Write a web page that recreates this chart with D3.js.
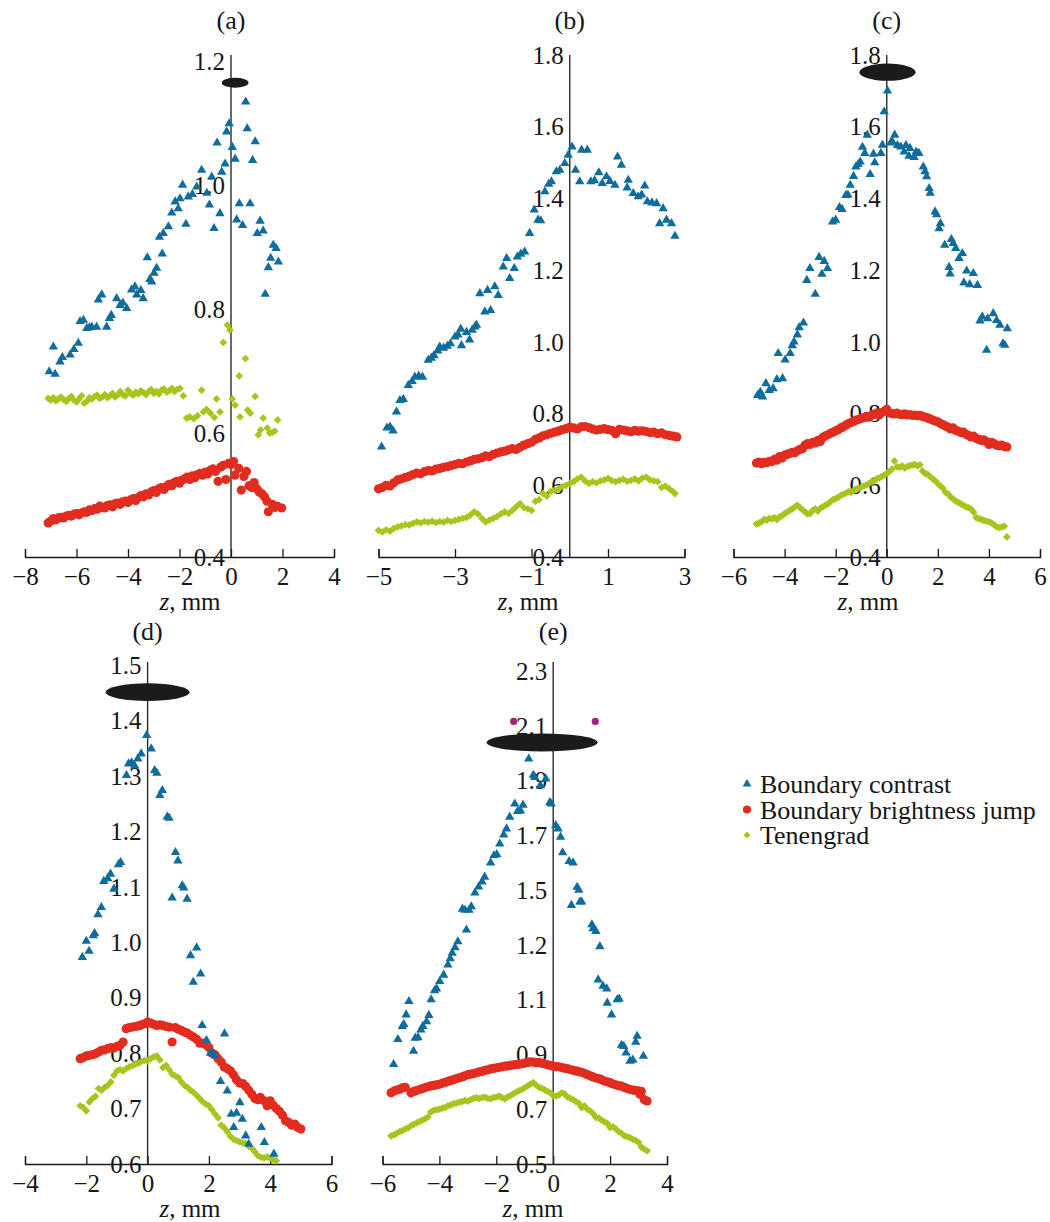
<!DOCTYPE html>
<html>
<head>
<meta charset="utf-8">
<script src="https://cdn.jsdelivr.net/npm/d3@7"></script>
<style>
  body { margin: 0; background: #ffffff; }
  svg text { font-family: "Liberation Serif", "Times New Roman", serif; fill: #161616; }
</style>
</head>
<body>
<div id="chart"></div>
<script>
// series names and colours
var seriesNames = ["Boundary contrast", "Boundary brightness jump", "Tenengrad"];
var seriesColors = ["#0f6c9c", "#e12c1f", "#a6c51d"];

// ---------- panel (a) ----------
var aContrast = [[-7.06,0.699],[-6.9,0.739],[-6.83,0.695],[-6.64,0.715],[-6.55,0.722],[-6.25,0.726],[-6.1,0.735],[-5.93,0.745],
  [-5.86,0.78],[-5.73,0.782],[-5.6,0.769],[-5.5,0.77],[-5.41,0.771],[-5.22,0.771],[-5.15,0.815],[-5.02,0.823],[-4.83,0.771],
  [-4.72,0.785],[-4.65,0.79],[-4.44,0.817],[-4.31,0.806],[-4.2,0.81],[-4.05,0.801],[-3.86,0.831],[-3.73,0.836],[-3.66,0.823],
  [-3.5,0.83],[-3.41,0.817],[-3.25,0.883],[-3.15,0.848],[-3.08,0.844],[-2.99,0.858],[-2.89,0.866],[-2.78,0.916],[-2.67,0.889],
  [-2.63,0.922],[-2.43,0.933],[-2.3,0.955],[-2.17,0.973],[-2.05,0.962],[-1.98,0.978],[-1.88,1.0],[-1.75,0.937],[-1.66,0.981],
  [-1.5,0.985],[-1.33,0.997],[-1.14,1.024],[-0.94,0.987],[-0.84,0.968],[-0.75,1.013],[-0.66,0.93],[-0.54,1.068],[-0.43,0.954],
  [-0.36,1.021],[-0.23,1.034],[-0.17,1.086],[-0.07,1.099],[0.05,1.061],[0.16,1.042],[0.22,0.944],[0.32,0.97],[0.45,0.935],
  [0.57,1.134],[0.63,1.091],[0.74,0.97],[0.84,1.04],[0.94,1.07],[1.02,0.922],[1.13,0.942],[1.25,0.926],[1.33,0.824],
  [1.45,0.867],[1.54,0.882],[1.64,0.903],[1.75,0.898],[1.84,0.876]];
var aBrightness = [[-7.1,0.455],[-7.0,0.458],[-6.9,0.462],[-6.8,0.46],[-6.7,0.463],[-6.6,0.464],[-6.5,0.463],[-6.4,0.466],
  [-6.3,0.467],[-6.2,0.466],[-6.1,0.469],[-6.0,0.47],[-5.9,0.468],[-5.8,0.471],[-5.7,0.473],[-5.6,0.472],[-5.5,0.476],
  [-5.4,0.475],[-5.3,0.478],[-5.2,0.477],[-5.1,0.482],[-5.0,0.48],[-4.9,0.479],[-4.8,0.483],[-4.7,0.484],[-4.6,0.481],
  [-4.5,0.486],[-4.4,0.487],[-4.3,0.485],[-4.2,0.489],[-4.1,0.49],[-4.0,0.488],[-3.9,0.492],[-3.8,0.494],[-3.7,0.491],
  [-3.6,0.496],[-3.5,0.499],[-3.4,0.497],[-3.3,0.502],[-3.2,0.5],[-3.1,0.505],[-3.0,0.507],[-2.9,0.504],[-2.8,0.51],
  [-2.7,0.512],[-2.6,0.509],[-2.5,0.514],[-2.4,0.517],[-2.3,0.515],[-2.2,0.52],[-2.1,0.522],[-2.0,0.519],[-1.9,0.524],
  [-1.8,0.526],[-1.7,0.529],[-1.6,0.525],[-1.5,0.531],[-1.4,0.528],[-1.3,0.533],[-1.2,0.535],[-1.1,0.532],[-1.0,0.537],
  [-0.9,0.534],[-0.8,0.54],[-0.7,0.542],[-0.6,0.538],[-0.5,0.522],[-0.4,0.545],[-0.3,0.548],[-0.2,0.525],[-0.1,0.551],
  [0.0,0.549],[0.1,0.554],[0.15,0.532],[0.3,0.543],[0.4,0.508],[0.5,0.53],[0.6,0.538],[0.7,0.515],[0.8,0.512],[0.9,0.52],
  [1.0,0.51],[1.1,0.505],[1.2,0.502],[1.3,0.497],[1.4,0.49],[1.45,0.473],[1.6,0.485],[1.7,0.48],[1.8,0.482],[1.97,0.479]];
var aTenengrad = [[-7.1,0.656],[-7.0,0.653],[-6.9,0.657],[-6.8,0.652],[-6.7,0.655],[-6.6,0.658],[-6.5,0.654],[-6.4,0.651],
  [-6.3,0.656],[-6.2,0.659],[-6.1,0.653],[-6.0,0.65],[-5.9,0.655],[-5.8,0.66],[-5.7,0.648],[-5.6,0.651],[-5.5,0.657],
  [-5.4,0.655],[-5.3,0.659],[-5.2,0.661],[-5.1,0.656],[-5.0,0.658],[-4.9,0.662],[-4.8,0.657],[-4.7,0.66],[-4.6,0.664],
  [-4.5,0.658],[-4.4,0.661],[-4.3,0.667],[-4.2,0.662],[-4.1,0.66],[-4.0,0.669],[-3.9,0.664],[-3.8,0.661],[-3.7,0.666],
  [-3.6,0.663],[-3.5,0.668],[-3.4,0.665],[-3.3,0.662],[-3.2,0.667],[-3.1,0.67],[-3.0,0.664],[-2.9,0.667],[-2.8,0.663],
  [-2.7,0.669],[-2.6,0.671],[-2.5,0.666],[-2.4,0.668],[-2.3,0.672],[-2.2,0.667],[-2.1,0.67],[-1.98,0.672],[-1.85,0.66],
  [-1.72,0.624],[-1.6,0.626],[-1.45,0.623],[-1.3,0.628],[-1.14,0.669],[-1.07,0.634],[-0.95,0.638],[-0.8,0.632],[-0.65,0.625],
  [-0.56,0.655],[-0.43,0.634],[-0.3,0.746],[-0.14,0.774],[-0.04,0.766],[0.05,0.655],[0.16,0.645],[0.32,0.692],[0.35,0.626],
  [0.56,0.72],[0.65,0.637],[0.75,0.632],[0.94,0.659],[1.06,0.597],[1.15,0.605],[1.25,0.624],[1.41,0.608],[1.5,0.6],
  [1.6,0.601],[1.7,0.603],[1.81,0.621]];
var aXTicks = [-8, -6, -4, -2, 0, 2, 4];
var aYTicks = [0.4, 0.6, 0.8, 1.0, 1.2];
var aLens = [0.16, 1.165, 0.52, 0.008];

// ---------- panel (b) ----------
var bContrast = [[-4.92,0.707],[-4.78,0.76],[-4.7,0.763],[-4.62,0.752],[-4.53,0.805],[-4.44,0.837],[-4.35,0.84],[-4.22,0.879],
  [-4.12,0.89],[-4.05,0.902],[-3.95,0.905],[-3.85,0.902],[-3.7,0.949],[-3.62,0.955],[-3.55,0.962],[-3.45,0.975],[-3.4,0.986],
  [-3.3,0.983],[-3.2,0.988],[-3.12,0.995],[-3.0,1.014],[-2.92,1.02],[-2.85,1.036],[-2.83,0.99],[-2.7,1.027],[-2.62,1.006],
  [-2.55,1.033],[-2.48,1.042],[-2.44,1.047],[-2.35,1.135],[-2.22,1.084],[-2.15,1.144],[-2.07,1.088],[-1.96,1.154],[-1.87,1.13],
  [-1.74,1.209],[-1.65,1.233],[-1.57,1.177],[-1.45,1.205],[-1.37,1.237],[-1.28,1.245],[-1.18,1.251],[-1.05,1.303],[-0.93,1.368],
  [-0.83,1.34],[-0.76,1.338],[-0.65,1.419],[-0.55,1.44],[-0.48,1.447],[-0.35,1.475],[-0.26,1.479],[-0.13,1.498],[-0.04,1.521],
  [0.06,1.544],[0.15,1.479],[0.26,1.447],[0.31,1.535],[0.46,1.535],[0.55,1.447],[0.65,1.45],[0.76,1.472],[0.85,1.442],
  [0.96,1.461],[1.05,1.448],[1.18,1.437],[1.25,1.516],[1.35,1.493],[1.5,1.43],[1.53,1.451],[1.66,1.414],[1.79,1.405],
  [1.88,1.41],[1.96,1.435],[2.03,1.391],[2.15,1.388],[2.27,1.386],[2.35,1.33],[2.44,1.372],[2.53,1.34],[2.66,1.33],[2.75,1.295]];
var bBrightness = [[-5.0,0.59],[-4.9,0.594],[-4.8,0.6],[-4.7,0.598],[-4.6,0.607],[-4.5,0.615],[-4.4,0.618],[-4.3,0.622],
  [-4.2,0.625],[-4.1,0.63],[-4.0,0.634],[-3.9,0.632],[-3.8,0.638],[-3.7,0.641],[-3.6,0.64],[-3.5,0.645],[-3.4,0.647],
  [-3.3,0.65],[-3.2,0.652],[-3.1,0.655],[-3.0,0.658],[-2.9,0.661],[-2.8,0.66],[-2.7,0.665],[-2.6,0.668],[-2.5,0.672],
  [-2.4,0.674],[-2.3,0.677],[-2.2,0.682],[-2.1,0.68],[-2.0,0.686],[-1.9,0.69],[-1.8,0.693],[-1.7,0.695],[-1.6,0.699],
  [-1.5,0.702],[-1.4,0.7],[-1.3,0.706],[-1.2,0.712],[-1.1,0.716],[-1.0,0.72],[-0.9,0.728],[-0.8,0.732],[-0.7,0.738],
  [-0.6,0.741],[-0.5,0.745],[-0.4,0.748],[-0.3,0.751],[-0.2,0.755],[-0.1,0.758],[0.0,0.762],[0.1,0.76],[0.2,0.757],
  [0.3,0.763],[0.4,0.764],[0.5,0.761],[0.6,0.757],[0.7,0.754],[0.8,0.756],[0.9,0.758],[1.0,0.755],[1.1,0.753],[1.2,0.744],
  [1.3,0.756],[1.4,0.754],[1.5,0.752],[1.6,0.749],[1.7,0.753],[1.8,0.751],[1.9,0.752],[2.0,0.75],[2.1,0.747],[2.2,0.748],
  [2.3,0.744],[2.4,0.746],[2.5,0.741],[2.6,0.739],[2.7,0.737],[2.8,0.735]];
var bTenengrad = [[-5.0,0.474],[-4.9,0.47],[-4.8,0.476],[-4.7,0.472],[-4.6,0.48],[-4.5,0.484],[-4.4,0.487],[-4.3,0.49],
  [-4.2,0.489],[-4.1,0.494],[-4.0,0.498],[-3.9,0.495],[-3.8,0.499],[-3.7,0.497],[-3.6,0.5],[-3.5,0.496],[-3.4,0.499],
  [-3.3,0.497],[-3.2,0.502],[-3.1,0.499],[-3.0,0.502],[-2.9,0.505],[-2.8,0.508],[-2.7,0.51],[-2.6,0.517],[-2.5,0.526],
  [-2.4,0.52],[-2.3,0.508],[-2.2,0.498],[-2.1,0.503],[-2.0,0.508],[-1.9,0.513],[-1.8,0.52],[-1.7,0.526],[-1.6,0.522],
  [-1.5,0.53],[-1.4,0.54],[-1.3,0.549],[-1.2,0.538],[-1.1,0.534],[-1.0,0.53],[-0.9,0.555],[-0.8,0.56],[-0.7,0.577],
  [-0.6,0.57],[-0.5,0.583],[-0.4,0.586],[-0.3,0.589],[-0.2,0.596],[-0.1,0.6],[0.0,0.605],[0.1,0.61],[0.2,0.618],[0.3,0.623],
  [0.4,0.612],[0.5,0.605],[0.6,0.61],[0.7,0.607],[0.8,0.612],[0.9,0.615],[1.0,0.619],[1.1,0.613],[1.2,0.61],[1.3,0.614],
  [1.4,0.617],[1.5,0.611],[1.6,0.614],[1.7,0.618],[1.8,0.612],[1.9,0.62],[2.0,0.623],[2.1,0.615],[2.2,0.612],[2.3,0.61],
  [2.4,0.594],[2.5,0.598],[2.6,0.59],[2.7,0.582],[2.75,0.577]];
var bXTicks = [-5, -3, -1, 1, 3];
var bYTicks = [0.4, 0.6, 0.8, 1.0, 1.2, 1.4, 1.6, 1.8];

// ---------- panel (c) ----------
var cContrast = [[-5.06,0.851],[-4.95,0.86],[-4.86,0.847],[-4.73,0.884],[-4.6,0.865],[-4.45,0.87],[-4.3,0.895],[-4.25,0.968],
  [-4.08,0.898],[-3.98,0.95],[-3.78,0.968],[-3.7,0.99],[-3.63,1.0],[-3.5,1.02],[-3.43,1.04],[-3.26,1.053],[-3.13,1.172],
  [-3.01,1.205],[-2.8,1.133],[-2.65,1.236],[-2.54,1.189],[-2.45,1.225],[-2.32,1.205],[-2.12,1.335],[-2.0,1.34],[-1.85,1.375],
  [-1.75,1.37],[-1.6,1.409],[-1.52,1.41],[-1.43,1.437],[-1.3,1.462],[-1.21,1.488],[-1.12,1.495],[-1.04,1.502],[-0.95,1.543],
  [-0.86,1.526],[-0.76,1.577],[-0.65,1.467],[-0.52,1.524],[-0.47,1.5],[-0.23,1.526],[-0.17,1.549],[-0.1,1.642],[0.03,1.7],
  [0.15,1.555],[0.22,1.558],[0.31,1.577],[0.42,1.548],[0.55,1.544],[0.68,1.53],[0.75,1.548],[0.87,1.518],[0.91,1.54],
  [1.07,1.515],[1.15,1.53],[1.26,1.526],[1.43,1.488],[1.5,1.475],[1.56,1.461],[1.66,1.428],[1.7,1.415],[1.89,1.363],
  [1.95,1.355],[2.05,1.316],[2.1,1.33],[2.27,1.27],[2.44,1.208],[2.48,1.19],[2.53,1.286],[2.6,1.275],[2.7,1.261],[2.83,1.233],
  [2.96,1.247],[3.02,1.165],[3.13,1.198],[3.25,1.16],[3.39,1.191],[3.55,1.158],[3.65,1.059],[3.74,1.07],[3.91,0.977],
  [3.95,1.065],[4.17,1.079],[4.3,1.06],[4.43,1.047],[4.55,0.995],[4.62,0.991],[4.72,1.037]];
var cBrightness = [[-5.1,0.662],[-5.0,0.665],[-4.9,0.66],[-4.8,0.664],[-4.7,0.663],[-4.6,0.667],[-4.5,0.666],[-4.4,0.672],
  [-4.3,0.67],[-4.2,0.68],[-4.1,0.676],[-4.0,0.684],[-3.9,0.686],[-3.8,0.689],[-3.7,0.692],[-3.6,0.691],[-3.5,0.696],
  [-3.4,0.7],[-3.3,0.702],[-3.2,0.712],[-3.1,0.716],[-3.0,0.714],[-2.9,0.72],[-2.8,0.718],[-2.7,0.725],[-2.6,0.722],
  [-2.5,0.734],[-2.4,0.738],[-2.3,0.741],[-2.2,0.745],[-2.1,0.748],[-2.0,0.752],[-1.9,0.755],[-1.8,0.76],[-1.7,0.763],
  [-1.6,0.768],[-1.5,0.772],[-1.4,0.775],[-1.3,0.778],[-1.2,0.782],[-1.1,0.784],[-1.0,0.786],[-0.9,0.789],[-0.8,0.792],
  [-0.7,0.79],[-0.6,0.795],[-0.5,0.798],[-0.4,0.801],[-0.3,0.796],[-0.2,0.803],[-0.1,0.806],[0.0,0.812],[0.1,0.802],
  [0.2,0.8],[0.3,0.799],[0.4,0.801],[0.5,0.798],[0.6,0.797],[0.7,0.799],[0.8,0.796],[0.9,0.797],[1.0,0.795],[1.1,0.796],
  [1.2,0.794],[1.3,0.795],[1.4,0.792],[1.5,0.79],[1.6,0.788],[1.7,0.785],[1.8,0.782],[1.9,0.779],[2.0,0.777],[2.1,0.772],
  [2.2,0.769],[2.3,0.765],[2.4,0.762],[2.5,0.757],[2.6,0.76],[2.7,0.753],[2.8,0.751],[2.9,0.747],[3.0,0.748],[3.1,0.742],
  [3.2,0.739],[3.3,0.735],[3.4,0.737],[3.5,0.731],[3.6,0.728],[3.7,0.725],[3.8,0.727],[3.9,0.722],[4.0,0.714],[4.1,0.72],
  [4.2,0.716],[4.3,0.712],[4.4,0.71],[4.5,0.712],[4.6,0.708],[4.7,0.707]];
var cTenengrad = [[-5.1,0.492],[-5.0,0.495],[-4.9,0.498],[-4.8,0.505],[-4.7,0.503],[-4.6,0.508],[-4.5,0.506],[-4.4,0.51],
  [-4.3,0.504],[-4.2,0.512],[-4.1,0.515],[-4.0,0.521],[-3.9,0.525],[-3.8,0.53],[-3.7,0.534],[-3.6,0.54],[-3.5,0.544],
  [-3.4,0.538],[-3.3,0.532],[-3.2,0.526],[-3.1,0.52],[-3.0,0.521],[-2.9,0.53],[-2.8,0.534],[-2.7,0.528],[-2.6,0.536],
  [-2.5,0.54],[-2.4,0.545],[-2.3,0.548],[-2.2,0.555],[-2.1,0.56],[-2.0,0.563],[-1.9,0.566],[-1.8,0.572],[-1.7,0.575],
  [-1.6,0.578],[-1.5,0.582],[-1.4,0.58],[-1.3,0.586],[-1.2,0.59],[-1.1,0.592],[-1.0,0.595],[-0.9,0.598],[-0.8,0.601],
  [-0.7,0.604],[-0.6,0.61],[-0.5,0.612],[-0.4,0.618],[-0.3,0.62],[-0.2,0.624],[-0.1,0.628],[0.0,0.633],[0.1,0.638],
  [0.2,0.645],[0.3,0.668],[0.4,0.652],[0.5,0.65],[0.6,0.654],[0.7,0.648],[0.8,0.652],[0.9,0.655],[1.0,0.656],[1.1,0.658],
  [1.2,0.654],[1.3,0.657],[1.4,0.64],[1.5,0.633],[1.6,0.631],[1.7,0.624],[1.8,0.618],[1.9,0.612],[2.0,0.605],[2.1,0.598],
  [2.2,0.592],[2.3,0.58],[2.4,0.576],[2.5,0.567],[2.6,0.562],[2.7,0.556],[2.8,0.552],[2.9,0.548],[3.0,0.544],[3.1,0.54],
  [3.2,0.538],[3.3,0.534],[3.4,0.525],[3.5,0.51],[3.6,0.507],[3.7,0.505],[3.8,0.502],[3.9,0.5],[4.0,0.498],[4.1,0.495],
  [4.2,0.49],[4.3,0.484],[4.4,0.482],[4.5,0.484],[4.6,0.486],[4.7,0.456]];
var cXTicks = [-6, -4, -2, 0, 2, 4, 6];
var cYTicks = [0.4, 0.6, 0.8, 1.0, 1.2, 1.4, 1.6, 1.8];
var cLens = [0.03, 1.752, 1.1, 0.024];

// ---------- panel (d) ----------
var dContrast = [[-2.13,0.973],[-2.0,1.002],[-1.91,0.984],[-1.77,1.012],[-1.73,1.016],[-1.62,1.05],[-1.51,1.063],[-1.43,1.11],
  [-1.3,1.115],[-1.21,1.123],[-1.1,1.096],[-0.95,1.14],[-0.88,1.144],[-0.69,1.301],[-0.62,1.322],[-0.52,1.324],[-0.42,1.318],
  [-0.32,1.331],[-0.21,1.34],[-0.03,1.373],[0.12,1.349],[0.23,1.31],[0.3,1.305],[0.4,1.265],[0.48,1.274],[0.64,1.226],
  [0.7,1.224],[0.8,1.08],[0.91,1.162],[0.99,1.147],[1.13,1.102],[1.18,1.098],[1.29,1.078],[1.4,0.976],[1.49,0.928],[1.6,0.99],
  [1.73,0.943],[1.78,0.85],[1.92,0.823],[2.05,0.8],[2.11,0.799],[2.2,0.795],[2.38,0.749],[2.51,0.835],[2.6,0.732],[2.73,0.69],
  [2.81,0.666],[2.9,0.692],[3.01,0.711],[3.09,0.681],[3.2,0.651],[3.3,0.636],[3.71,0.666],[3.81,0.639],[4.12,0.618]];
var dBrightness = [[-2.2,0.79],[-2.1,0.792],[-2.0,0.795],[-1.9,0.796],[-1.8,0.797],[-1.7,0.799],[-1.6,0.802],[-1.5,0.805],
  [-1.4,0.806],[-1.3,0.808],[-1.2,0.81],[-1.1,0.809],[-1.0,0.812],[-0.9,0.814],[-0.8,0.82],[-0.7,0.844],[-0.6,0.846],
  [-0.5,0.847],[-0.4,0.848],[-0.3,0.849],[-0.2,0.851],[-0.1,0.853],[0.0,0.856],[0.1,0.854],[0.2,0.852],[0.3,0.85],
  [0.4,0.851],[0.5,0.85],[0.6,0.848],[0.7,0.847],[0.8,0.82],[0.9,0.846],[1.0,0.843],[1.1,0.841],[1.2,0.838],[1.3,0.836],
  [1.4,0.832],[1.5,0.829],[1.6,0.825],[1.7,0.818],[1.8,0.818],[1.9,0.815],[2.0,0.81],[2.1,0.8],[2.2,0.797],[2.3,0.79],
  [2.4,0.784],[2.5,0.775],[2.6,0.772],[2.7,0.768],[2.8,0.761],[2.9,0.752],[3.0,0.746],[3.1,0.745],[3.2,0.74],[3.3,0.733],
  [3.4,0.726],[3.5,0.718],[3.6,0.716],[3.68,0.72],[3.8,0.714],[3.9,0.705],[4.0,0.714],[4.1,0.706],[4.2,0.7],[4.3,0.695],
  [4.4,0.688],[4.5,0.678],[4.6,0.675],[4.7,0.67],[4.8,0.672],[4.9,0.666],[5.0,0.663]];
var dTenengrad = [[-2.2,0.705],[-2.1,0.702],[-2.0,0.696],[-1.9,0.712],[-1.8,0.718],[-1.7,0.722],[-1.6,0.736],[-1.5,0.733],
  [-1.4,0.738],[-1.3,0.742],[-1.2,0.748],[-1.1,0.76],[-1.0,0.768],[-0.9,0.77],[-0.8,0.768],[-0.7,0.772],[-0.6,0.775],
  [-0.5,0.777],[-0.4,0.78],[-0.3,0.782],[-0.2,0.785],[-0.1,0.787],[0.0,0.786],[0.1,0.79],[0.2,0.793],[0.3,0.795],[0.4,0.788],
  [0.5,0.774],[0.6,0.778],[0.7,0.77],[0.8,0.762],[0.9,0.759],[1.0,0.756],[1.1,0.748],[1.2,0.742],[1.3,0.738],[1.4,0.733],
  [1.5,0.729],[1.6,0.724],[1.7,0.718],[1.8,0.712],[1.9,0.708],[2.0,0.705],[2.1,0.698],[2.2,0.69],[2.3,0.683],[2.4,0.67],
  [2.5,0.665],[2.6,0.658],[2.7,0.65],[2.8,0.645],[2.9,0.642],[3.0,0.64],[3.1,0.638],[3.2,0.637],[3.3,0.632],[3.4,0.628],
  [3.5,0.622],[3.6,0.615],[3.7,0.612],[3.8,0.611],[3.9,0.613],[4.0,0.61],[4.1,0.608],[4.2,0.606]];
var dXTicks = [-4, -2, 0, 2, 4, 6];
var dYTicks = [0.6, 0.7, 0.8, 0.9, 1.0, 1.1, 1.2, 1.3, 1.4, 1.5];
var dLens = [0.0, 1.451, 1.37, 0.016];

// ---------- panel (e) ----------
var eContrast = [[-5.61,0.864],[-5.46,0.955],[-5.3,1.003],[-5.25,1.01],[-5.17,1.045],[-5.07,1.094],[-4.91,0.912],[-4.85,0.96],
  [-4.75,0.962],[-4.65,0.99],[-4.58,1.003],[-4.45,1.02],[-4.37,1.043],[-4.29,1.1],[-4.17,1.133],[-4.1,1.14],[-3.99,1.167],
  [-3.85,1.19],[-3.7,1.227],[-3.62,1.25],[-3.55,1.27],[-3.45,1.29],[-3.35,1.312],[-3.19,1.431],[-3.1,1.427],[-3.05,1.355],
  [-2.96,1.427],[-2.88,1.44],[-2.75,1.49],[-2.62,1.512],[-2.5,1.53],[-2.41,1.548],[-2.2,1.6],[-2.08,1.627],[-1.98,1.63],
  [-1.88,1.669],[-1.74,1.702],[-1.64,1.724],[-1.53,1.767],[-1.35,1.815],[-1.25,1.788],[-1.15,1.79],[-1.06,1.811],[-0.86,1.979],
  [-0.7,1.92],[-0.65,1.912],[-0.45,1.882],[-0.26,1.906],[-0.12,1.82],[-0.07,1.815],[0.09,1.736],[0.17,1.724],[0.26,1.694],
  [0.33,1.637],[0.56,1.605],[0.64,1.445],[0.7,1.6],[0.84,1.511],[0.9,1.5],[0.94,1.457],[1.0,1.457],[1.36,1.374],[1.4,1.36],
  [1.5,1.35],[1.64,1.294],[1.58,1.173],[1.75,1.15],[1.88,1.14],[1.9,1.088],[2.05,1.045],[2.25,1.1],[2.32,1.103],[2.4,0.934],
  [2.48,0.93],[2.56,0.906],[2.7,0.876],[2.8,0.88],[2.9,0.945],[2.95,0.967],[3.17,0.894]];
var eBrightness = [[-5.7,0.76],[-5.6,0.766],[-5.5,0.77],[-5.4,0.773],[-5.3,0.778],[-5.2,0.78],[-5.0,0.76],[-4.9,0.765],
  [-4.8,0.768],[-4.7,0.772],[-4.6,0.775],[-4.5,0.779],[-4.4,0.782],[-4.3,0.785],[-4.2,0.787],[-4.1,0.789],[-4.0,0.791],
  [-3.9,0.795],[-3.8,0.798],[-3.7,0.802],[-3.6,0.805],[-3.5,0.808],[-3.4,0.812],[-3.3,0.815],[-3.2,0.818],[-3.1,0.822],
  [-3.0,0.826],[-2.9,0.828],[-2.8,0.83],[-2.7,0.833],[-2.6,0.836],[-2.5,0.838],[-2.4,0.842],[-2.3,0.844],[-2.2,0.847],
  [-2.1,0.849],[-2.0,0.851],[-1.9,0.853],[-1.8,0.855],[-1.7,0.857],[-1.6,0.858],[-1.5,0.86],[-1.4,0.862],[-1.3,0.863],
  [-1.2,0.864],[-1.1,0.866],[-1.0,0.868],[-0.9,0.871],[-0.8,0.873],[-0.7,0.872],[-0.6,0.87],[-0.5,0.871],[-0.4,0.868],
  [-0.3,0.866],[-0.2,0.862],[-0.1,0.86],[0.0,0.857],[0.1,0.856],[0.2,0.855],[0.3,0.852],[0.4,0.85],[0.5,0.848],[0.6,0.845],
  [0.7,0.842],[0.8,0.84],[0.9,0.837],[1.0,0.835],[1.1,0.831],[1.2,0.826],[1.3,0.822],[1.4,0.818],[1.5,0.814],[1.6,0.812],
  [1.7,0.808],[1.8,0.803],[1.9,0.8],[2.0,0.797],[2.1,0.792],[2.2,0.789],[2.3,0.786],[2.4,0.784],[2.5,0.78],[2.6,0.776],
  [2.7,0.772],[2.8,0.77],[2.9,0.768],[3.0,0.767],[3.05,0.755],[3.1,0.765],[3.2,0.735],[3.3,0.73]];
var eTenengrad = [[-5.7,0.603],[-5.6,0.606],[-5.5,0.612],[-5.4,0.618],[-5.3,0.622],[-5.2,0.628],[-5.1,0.632],[-5.0,0.64],
  [-4.9,0.645],[-4.8,0.65],[-4.7,0.655],[-4.6,0.66],[-4.5,0.665],[-4.4,0.672],[-4.3,0.69],[-4.2,0.696],[-4.1,0.698],
  [-4.0,0.7],[-3.9,0.704],[-3.8,0.707],[-3.7,0.712],[-3.6,0.716],[-3.5,0.72],[-3.4,0.722],[-3.3,0.726],[-3.2,0.728],
  [-3.1,0.732],[-3.0,0.73],[-2.9,0.735],[-2.8,0.74],[-2.7,0.742],[-2.6,0.739],[-2.5,0.742],[-2.4,0.744],[-2.3,0.74],
  [-2.2,0.738],[-2.1,0.742],[-2.0,0.744],[-1.9,0.748],[-1.8,0.742],[-1.7,0.738],[-1.6,0.745],[-1.5,0.75],[-1.4,0.756],
  [-1.3,0.762],[-1.2,0.768],[-1.1,0.772],[-1.0,0.779],[-0.9,0.785],[-0.8,0.792],[-0.7,0.797],[-0.6,0.788],[-0.5,0.78],
  [-0.4,0.776],[-0.3,0.771],[-0.2,0.765],[-0.1,0.76],[0.0,0.75],[0.1,0.748],[0.2,0.752],[0.3,0.76],[0.4,0.756],[0.5,0.745],
  [0.6,0.74],[0.7,0.735],[0.8,0.728],[0.9,0.722],[1.0,0.706],[1.1,0.712],[1.2,0.7],[1.3,0.694],[1.4,0.684],[1.5,0.67],
  [1.6,0.668],[1.7,0.66],[1.8,0.654],[1.9,0.648],[2.0,0.633],[2.1,0.636],[2.2,0.628],[2.3,0.618],[2.4,0.612],[2.5,0.603],
  [2.6,0.6],[2.7,0.596],[2.8,0.59],[2.9,0.586],[3.0,0.579],[3.1,0.562],[3.2,0.554],[3.3,0.548]];
var eXTicks = [-6, -4, -2, 0, 2, 4];
var eYTicks = [0.5, 0.7, 0.9, 1.1, 1.3, 1.5, 1.7, 1.9, 2.1, 2.3];
var eYLabels = ["0.5", "0.7", "0.9", "1.1", "1.2", "1.5", "1.7", "1.9", "2.1", "2.3"];
var eLens = [-0.39, 2.039, 1.95, 0.033];
var eMarks = [[-1.39, 2.116], [1.48, 2.116]];

var panels = [
  { title: "(a)", xDomain: [-8, 4], xRange: [25, 334], yDomain: [0.4, 1.2], yRange: [557, 61], top: 55, titleY: 29, labelX: 190,
    xTicks: aXTicks, yTicks: aYTicks, series: [aContrast, aBrightness, aTenengrad], lens: aLens },
  { title: "(b)", xDomain: [-5, 3], xRange: [378.5, 684.5], yDomain: [0.4, 1.8], yRange: [557, 55], top: 55, titleY: 29, labelX: 528,
    xTicks: bXTicks, yTicks: bYTicks, series: [bContrast, bBrightness, bTenengrad] },
  { title: "(c)", xDomain: [-6, 6], xRange: [733.5, 1040], yDomain: [0.4, 1.8], yRange: [557, 55], top: 55, titleY: 29, labelX: 868,
    xTicks: cXTicks, yTicks: cYTicks, series: [cContrast, cBrightness, cTenengrad], lens: cLens },
  { title: "(d)", xDomain: [-4, 6], xRange: [25, 331.5], yDomain: [0.6, 1.5], yRange: [1164, 665], top: 662, titleY: 640, labelX: 190,
    xTicks: dXTicks, yTicks: dYTicks, series: [dContrast, dBrightness, dTenengrad], lens: dLens },
  { title: "(e)", xDomain: [-6, 4], xRange: [382.5, 667], yDomain: [0.5, 2.3], yRange: [1164, 671], top: 662, titleY: 640, labelX: 533,
    xTicks: eXTicks, yTicks: eYTicks, yLabels: eYLabels, series: [eContrast, eBrightness, eTenengrad], lens: eLens, marks: eMarks }
];

var svg = d3.select("#chart").append("svg")
  .attr("width", 1050)
  .attr("height", 1222);

svg.append("rect").attr("width", 1050).attr("height", 1222).attr("fill", "#ffffff");

var triangle = d3.symbol().type(d3.symbolTriangle).size(38);
var diamond = d3.symbol().type(d3.symbolSquare).size(30);

function drawMarks(g, data, idx, x, y) {
  var sel = g.append("g").selectAll("path").data(data).enter();
  if (idx === 0) {
    sel.append("path")
      .attr("d", triangle)
      .attr("transform", function(d) { return "translate(" + x(d[0]) + "," + y(d[1]) + ")"; })
      .attr("fill", seriesColors[0]);
  } else if (idx === 1) {
    sel.append("circle")
      .attr("cx", function(d) { return x(d[0]); })
      .attr("cy", function(d) { return y(d[1]); })
      .attr("r", 4.6)
      .attr("fill", seriesColors[1]);
  } else {
    sel.append("path")
      .attr("d", diamond)
      .attr("transform", function(d) { return "translate(" + x(d[0]) + "," + y(d[1]) + ") rotate(45)"; })
      .attr("fill", seriesColors[2]);
  }
}

panels.forEach(function(p) {
  var g = svg.append("g");
  var x = d3.scaleLinear().domain(p.xDomain).range(p.xRange);
  var y = d3.scaleLinear().domain(p.yDomain).range(p.yRange);
  var x0 = x(0);
  var yBottom = p.yRange[0];

  // x axis with inward ticks
  var xAxis = g.append("g")
    .attr("transform", "translate(0," + yBottom + ")")
    .call(d3.axisBottom(x).tickValues(p.xTicks).tickSize(-8).tickSizeOuter(-8).tickPadding(10));
  xAxis.attr("font-family", null).attr("font-size", null);
  xAxis.selectAll("path, line").attr("stroke", "#1a1a1a").attr("stroke-width", 1.3);
  xAxis.selectAll("text").style("font-size", "25px").attr("fill", "#161616");

  // y tick labels sit left of the z = 0 line
  var fmt = d3.format(".1f");
  g.append("g").selectAll("text")
    .data(p.yTicks)
    .enter().append("text")
    .attr("x", x0 - 6)
    .attr("y", function(d) { return y(d); })
    .attr("dy", "0.35em")
    .attr("text-anchor", "end")
    .style("font-size", "25px")
    .text(function(d, i) { return p.yLabels ? p.yLabels[i] : fmt(d); });

  g.append("line")
    .attr("x1", x0).attr("x2", x0)
    .attr("y1", yBottom).attr("y2", p.top)
    .attr("stroke", "#2a2a2a")
    .attr("stroke-width", 1.4);

  // red, green, then blue on top
  drawMarks(g, p.series[1], 1, x, y);
  drawMarks(g, p.series[2], 2, x, y);
  drawMarks(g, p.series[0], 0, x, y);

  if (p.lens) {
    g.append("ellipse")
      .attr("cx", x(p.lens[0]))
      .attr("cy", y(p.lens[1]))
      .attr("rx", x(p.lens[0] + p.lens[2]) - x(p.lens[0]))
      .attr("ry", y(p.lens[1] - p.lens[3]) - y(p.lens[1]))
      .attr("fill", "#1b1b1b");
  }

  if (p.marks) {
    g.append("g").selectAll("circle")
      .data(p.marks)
      .enter().append("circle")
      .attr("cx", function(d) { return x(d[0]); })
      .attr("cy", function(d) { return y(d[1]); })
      .attr("r", 3.6)
      .attr("fill", "#a2247f");
  }

  // panel letter
  g.append("text")
    .attr("x", x0)
    .attr("y", p.titleY)
    .attr("text-anchor", "middle")
    .style("font-size", "26px")
    .text(p.title);

  // axis title
  var lab = g.append("text")
    .attr("x", p.labelX)
    .attr("y", yBottom + 53)
    .attr("text-anchor", "middle")
    .style("font-size", "25px");
  lab.append("tspan").style("font-style", "italic").text("z");
  lab.append("tspan").text(", mm");
});

// legend
var legend = svg.append("g").attr("transform", "translate(747,784)");
var legendSymbols = [
  d3.symbol().type(d3.symbolTriangle).size(32),
  d3.symbol().type(d3.symbolCircle).size(52),
  d3.symbol().type(d3.symbolSquare).size(24)
];
seriesNames.forEach(function(name, i) {
  var row = legend.append("g").attr("transform", "translate(0," + (i * 25.5) + ")");
  row.append("path")
    .attr("d", legendSymbols[i])
    .attr("transform", i === 2 ? "rotate(45)" : null)
    .attr("fill", seriesColors[i]);
  row.append("text")
    .attr("x", 13)
    .attr("y", 9)
    .style("font-size", "26px")
    .text(name);
});
</script>
</body>
</html>
